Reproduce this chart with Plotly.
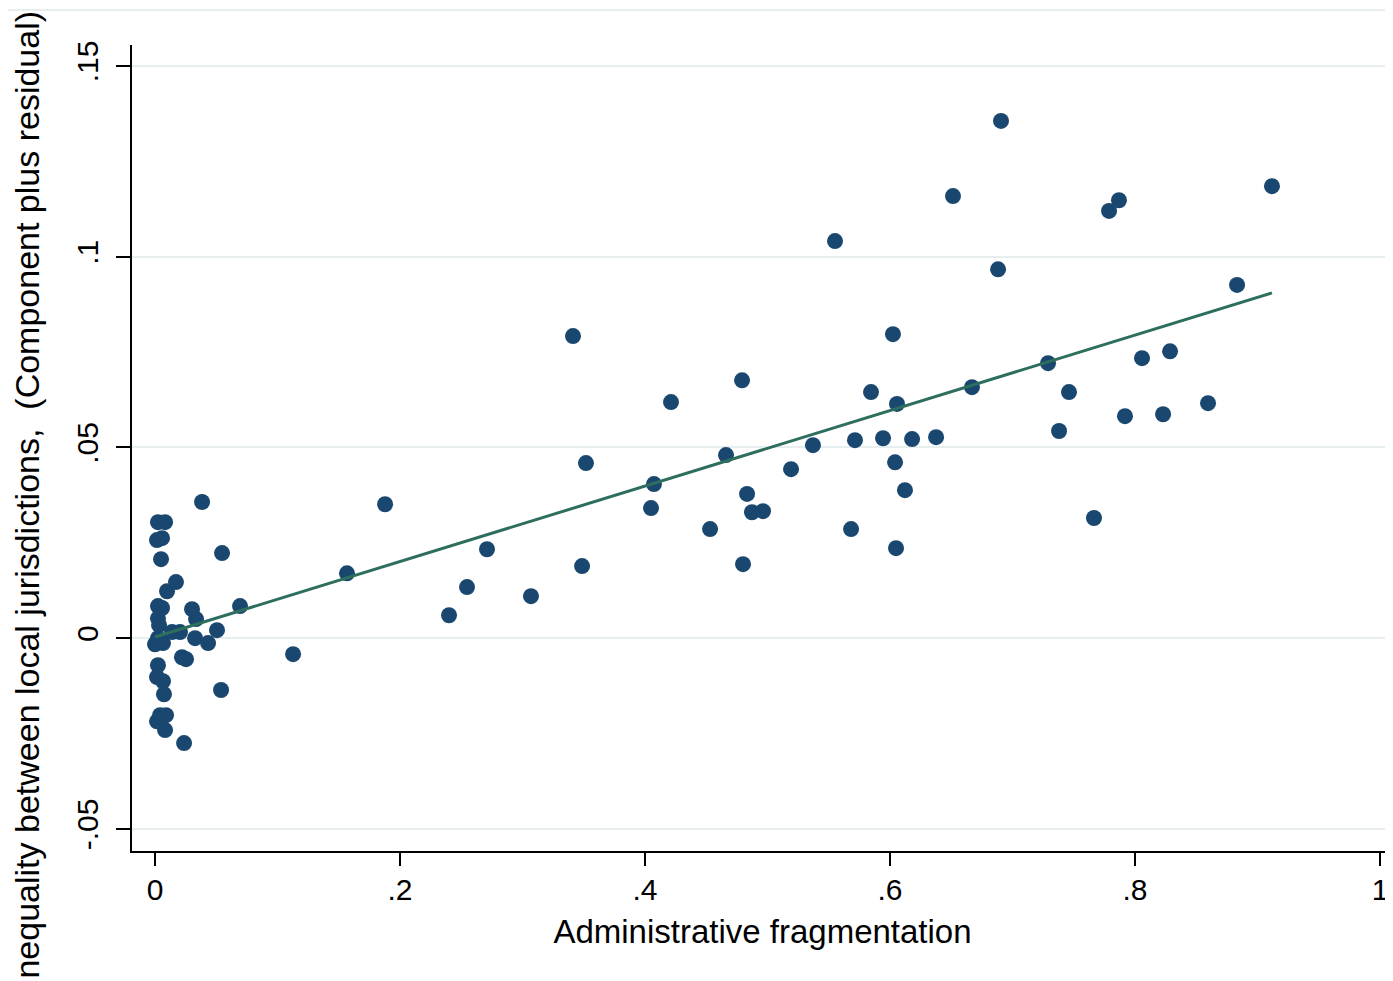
import plotly.graph_objects as go

# Administrative fragmentation (x) and component-plus-residual (y)
frag = [
    0.0384, 0.0024, 0.0082, 0.0016, 0.0057, 0.0049, 0.0547, 0.0171, 0.0098, 0.0024,
    0.0057, 0.0694, 0.0024, 0.0033, 0.0302, 0.0335, 0.0506, 0.0139, 0.0204, 0.0327,
    0.0433, 0.0000, 0.0065, 0.0024, 0.0220, 0.0253, 0.0024, 0.0016, 0.0065, 0.0073,
    0.0539, 0.0041, 0.0090, 0.0016, 0.0082, 0.0237,
    0.1127, 0.1567, 0.1878, 0.2400, 0.2547, 0.2710, 0.3069, 0.3412, 0.3486, 0.3518,
    0.4049, 0.4073, 0.4212, 0.4531, 0.4661, 0.4792, 0.4800, 0.4833, 0.4873, 0.4963,
    0.5192, 0.5371, 0.5551, 0.5682, 0.5714, 0.5845, 0.5943, 0.6024, 0.6041, 0.6049,
    0.6057, 0.6122, 0.6180, 0.6376, 0.6514, 0.6669, 0.6882, 0.6906, 0.7290, 0.7380,
    0.7461, 0.7665, 0.7788, 0.7869, 0.7918, 0.8057, 0.8229, 0.8286, 0.8596, 0.8833,
    0.9118,
]
inequality = [
    0.0357, 0.0304, 0.0304, 0.0257, 0.0262, 0.0207, 0.0223, 0.0147, 0.0123, 0.0084,
    0.0079, 0.0084, 0.0052, 0.0034, 0.0076, 0.0050, 0.0021, 0.0016, 0.0016, 0.0000,
    -0.0013, -0.0016, -0.0013, 0.0000, -0.0050, -0.0055, -0.0071, -0.0102, -0.0113, -0.0147,
    -0.0136, -0.0202, -0.0202, -0.0218, -0.0241, -0.0275,
    -0.0042, 0.0170, 0.0351, 0.0060, 0.0134, 0.0233, 0.0110, 0.0792, 0.0189, 0.0459,
    0.0341, 0.0404, 0.0619, 0.0286, 0.0480, 0.0676, 0.0194, 0.0378, 0.0330, 0.0333,
    0.0443, 0.0506, 0.1041, 0.0286, 0.0519, 0.0645, 0.0524, 0.0797, 0.0461, 0.0236,
    0.0614, 0.0388, 0.0522, 0.0527, 0.1159, 0.0658, 0.0967, 0.1356, 0.0721, 0.0543,
    0.0645, 0.0315, 0.1120, 0.1148, 0.0582, 0.0734, 0.0587, 0.0752, 0.0616, 0.0926,
    0.1185,
]

# Fitted component line
fit_x = [0.0, 0.9118]
fit_y = [0.0003, 0.0905]

x_ticks = [0, 0.2, 0.4, 0.6, 0.8, 1]
x_tick_labels = ["0", ".2", ".4", ".6", ".8", "1"]
y_ticks = [-0.05, 0, 0.05, 0.1, 0.15]
y_tick_labels = ["-.05", "0", ".05", ".1", ".15"]

FONT = "Liberation Sans, Arial, sans-serif"
GRID = "#e6eef0"

# page body has an 8px margin; figure sized so the plot lands where the reference's does
W, H = 1385, 973
L, T, B = 124, 37, 130
PW, PH = W - L, H - T - B

fig = go.Figure()
fig.add_trace(go.Scatter(
    x=frag, y=inequality, mode="markers",
    marker=dict(color="#1a476f", size=16, line=dict(width=0)),
    showlegend=False, cliponaxis=False,
))
fig.add_trace(go.Scatter(
    x=fit_x, y=fit_y, mode="lines",
    line=dict(color="#2e6e5e", width=3),
    showlegend=False,
))

fig.update_layout(
    width=W, height=H,
    margin=dict(l=L, r=0, t=T, b=B, autoexpand=False),
    paper_bgcolor="white", plot_bgcolor="white",
    font=dict(family=FONT, color="black"),
    xaxis=dict(
        range=[-0.0188, 1.0106],
        tickvals=x_ticks, ticktext=x_tick_labels,
        ticks="outside", ticklen=13, tickwidth=2, tickcolor="black",
        showline=True, linecolor="black", linewidth=2,
        showgrid=False, zeroline=False,
        tickfont=dict(size=30, family=FONT),
        ticklabelstandoff=-2,
        title=dict(text="Administrative fragmentation", font=dict(size=33, family=FONT), standoff=15),
    ),
    yaxis=dict(
        range=[-0.0558, 0.1555],
        tickvals=y_ticks, ticktext=y_tick_labels,
        ticks="outside", ticklen=14, tickwidth=2, tickcolor="black",
        showline=True, linecolor="black", linewidth=2,
        showgrid=True, gridcolor=GRID, gridwidth=2,
        zeroline=False,
        tickangle=-90,
        tickfont=dict(size=30, family=FONT),
        ticklabelstandoff=6,
    ),
    annotations=[dict(
        text="Inequality between local jurisdictions,\u00a0 (Component plus residual)",
        textangle=-90, showarrow=False,
        xref="paper", yref="paper",
        x=(27 - 132) / PW, y=(851 - 500) / PH,
        xanchor="center", yanchor="middle",
        font=dict(size=34, family=FONT, color="black"),
    )],
    shapes=[dict(
        type="line", xref="paper", yref="paper",
        x0=-L / PW, x1=1, y0=(851 - 10) / PH, y1=(851 - 10) / PH,
        line=dict(color=GRID, width=2), layer="below",
    )],
)

fig.write_html("out.html")
